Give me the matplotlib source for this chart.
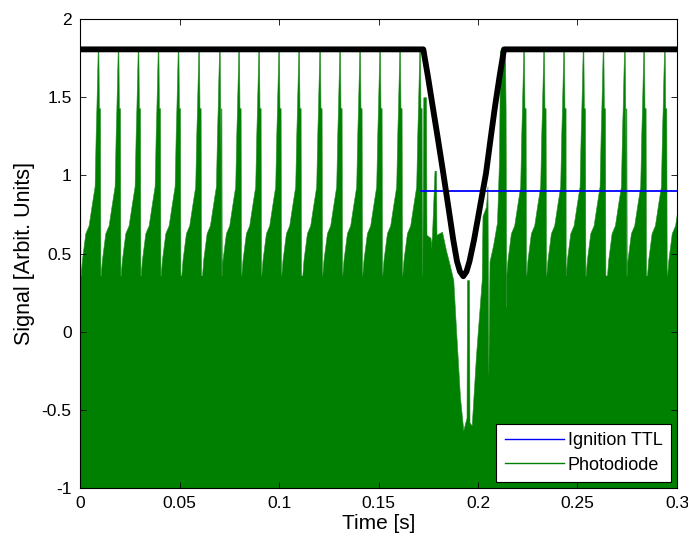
import numpy as np
import matplotlib
matplotlib.use('Agg')
import matplotlib.pyplot as plt
from matplotlib.lines import Line2D

plt.rcParams['font.family'] = ['Liberation Sans', 'DejaVu Sans']

# Photodiode: times of the regular spikes (s)
spike_t = [-0.00116, 0.00889, 0.01894, 0.02899, 0.03905, 0.04910, 0.05945,
           0.06985, 0.07955, 0.08960, 0.09965, 0.10970, 0.12025, 0.13030,
           0.14035, 0.15040, 0.16045, 0.17050,
           0.22276, 0.23281, 0.24286, 0.25261, 0.26266, 0.27337, 0.28307,
           0.29347, 0.30360]

# shape of one tooth around a spike: offset from spike (s) and upper level
tooth_dt = [-0.00854, -0.00794, -0.00623, -0.00457, -0.00291, -0.00156,
            -0.00101, -0.00065, 0.0, 0.00035, 0.00060, 0.00116, 0.00136]
tooth_v = [0.36, 0.46, 0.63, 0.68, 0.82, 0.93, 1.27, 1.44, 1.80, 1.80,
           1.43, 1.43, 0.36]

# upper envelope of the photodiode during the ignition dip
dip_t = [0.17211, 0.17251, 0.17387, 0.17412, 0.17613, 0.17638, 0.17688,
         0.17814, 0.17889, 0.17915, 0.18191, 0.18392, 0.18593, 0.18759,
         0.18894, 0.19095, 0.19261, 0.19422, 0.19447, 0.19548, 0.19573,
         0.19683, 0.19899, 0.20186, 0.20226, 0.20402, 0.20477, 0.20518,
         0.20578, 0.20754, 0.20955, 0.21055, 0.21106, 0.21357, 0.21387,
         0.21417]
dip_v = [0.60, 1.50, 1.50, 0.62, 0.60, 0.54, 0.62, 1.03, 1.03, 0.62, 0.64,
         0.52, 0.42, 0.33, 0.02, -0.42, -0.63, -0.55, 0.33, 0.33, -0.58,
         -0.60, -0.15, 0.33, 0.74, 0.80, 0.93, -0.27, 0.45, 0.55, 0.70, 1.10,
         1.80, 1.80, 1.43, 0.16]

# black trace
blk_t = [0.0, 0.17251, 0.17487, 0.17724, 0.17990, 0.18256, 0.18508, 0.18759,
         0.18945, 0.19095, 0.19261, 0.19422, 0.19573, 0.19799, 0.20101,
         0.20402, 0.20628, 0.20854, 0.21080, 0.21307, 0.3]
blk_v = [1.806, 1.806, 1.63, 1.44, 1.23, 1.013, 0.80, 0.586, 0.45, 0.385,
         0.355, 0.385, 0.45, 0.586, 0.80, 1.013, 1.23, 1.44, 1.63, 1.806,
         1.806]

# ignition TTL
ttl_t = [0.1714, 0.3]
ttl_v = [0.9, 0.9]

# build photodiode envelope from the teeth plus the dip section
env_t = list(dip_t)
env_v = list(dip_v)
for ts in spike_t:
    env_t += [ts + d for d in tooth_dt]
    env_v += tooth_v
order = np.argsort(env_t)
env_t = np.array(env_t)[order]
env_v = np.array(env_v)[order]

fig = plt.figure(figsize=(6.88, 5.44), dpi=100)
ax = fig.add_axes([0.1163, 0.1029, 0.8677, 0.8621])

ax.fill_between(env_t, -1.2, env_v, color='#008000', linewidth=0.4,
                edgecolor='#2a8f2a', zorder=1)
ax.plot(ttl_t, ttl_v, color='#0000ff', linewidth=1.3, zorder=2)
ax.plot(blk_t, blk_v, color='black', linewidth=4.2, zorder=3,
        solid_joinstyle='round', solid_capstyle='butt')

ax.set_xlim(0, 0.3)
ax.set_ylim(-1, 2)
ax.set_xticks([0, 0.05, 0.1, 0.15, 0.2, 0.25, 0.3])
ax.set_xticklabels(['0', '0.05', '0.1', '0.15', '0.2', '0.25', '0.3'])
ax.set_yticks([-1, -0.5, 0, 0.5, 1, 1.5, 2])
ax.set_yticklabels(['-1', '-0.5', '0', '0.5', '1', '1.5', '2'])
ax.tick_params(direction='in', top=True, right=True, length=4.5,
               width=0.6, labelsize=12.5, pad=6)
for sp in ax.spines.values():
    sp.set_linewidth(0.8)

ax.set_xlabel('Time [s]', fontsize=15, labelpad=2)
ax.set_ylabel('Signal [Arbit. Units]', fontsize=15.5, labelpad=5)

handles = [Line2D([], [], color='#0000ff', linewidth=1),
           Line2D([], [], color='#008000', linewidth=1)]
leg = ax.legend(handles, ['Ignition TTL', 'Photodiode'], loc='lower right',
                fontsize=13, frameon=True, fancybox=False, framealpha=1,
                edgecolor='black', handlelength=3.3, handletextpad=0.2,
                borderpad=0.45, labelspacing=0.4, borderaxespad=0.35)
leg.get_frame().set_linewidth(0.8)

fig.savefig('out.png', dpi=100)
